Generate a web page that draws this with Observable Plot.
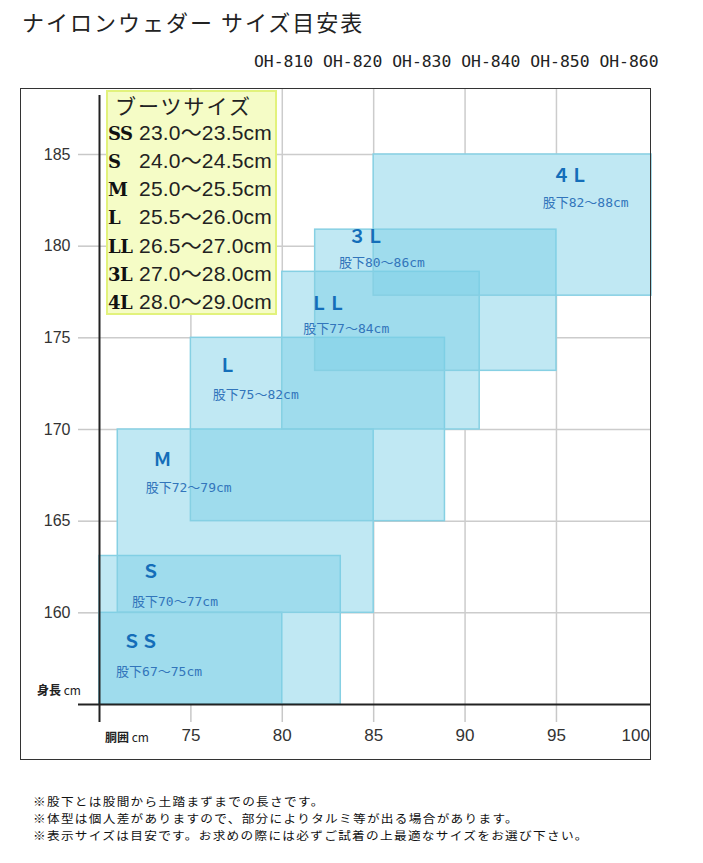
<!DOCTYPE html>
<html><head><meta charset="utf-8">
<script src="https://cdn.jsdelivr.net/npm/d3@7"></script>
<script src="https://cdn.jsdelivr.net/npm/@observablehq/plot@0.6"></script>
<style>
body{margin:0;background:#fff;width:703px;height:863px;position:relative;overflow:hidden;font-family:"Noto Sans CJK JP",sans-serif;color:#111}
.abs{position:absolute;white-space:nowrap}
</style></head>
<body>
<div id="title" class="abs" style="left:22px;top:10px;font-size:22px;line-height:22px;letter-spacing:2px;color:#222"></div>
<div id="models" class="abs" style="left:254px;top:54px;font-family:'DejaVu Sans Mono';font-size:16.4px;line-height:16px;color:#222"></div>
<div id="chart" class="abs" style="left:0;top:80px"></div>
<div class="abs" style="left:20px;top:88px;width:631px;height:672px;border:1.5px solid #333;box-sizing:border-box;pointer-events:none"></div>
<div id="boot" class="abs" style="left:106px;top:90px;width:171px;height:225px;background:#f5fcc6;border:2px solid #e2f27c;box-sizing:border-box"></div>
<div id="ylab" class="abs" style="left:37px;top:682px;font-size:12px;line-height:16px;font-weight:bold;color:#222"></div>
<div id="xlab" class="abs" style="left:105px;top:729px;font-size:12px;line-height:16px;font-weight:bold;color:#222"></div>
<div id="notes" class="abs" style="left:33px;top:793px;font-size:11.6px;line-height:17px;letter-spacing:1.2px;transform:scaleX(1.09);transform-origin:0 0;color:#111"></div>
<script>
const titleText = "ナイロンウェダー サイズ目安表";
const models = ["OH-810", "OH-820", "OH-830", "OH-840", "OH-850", "OH-860"];
const sizes = ["SS", "S", "M", "L", "LL", "3L", "4L"];
const sizeLabels = ["ＳＳ", "Ｓ", "Ｍ", "Ｌ", "ＬＬ", "３Ｌ", "４Ｌ"];
const waistMin = [70, 70, 71, 75, 80, 81.8, 85];
const waistMax = [80, 83.2, 85, 88.9, 90.8, 95, 100.2];
const heightMin = [155, 155, 160, 165, 170, 173.2, 177.3];
const heightMax = [160, 163.1, 170, 175, 178.6, 180.9, 185];
const inseams = ["股下67～75cm", "股下70～77cm", "股下72～79cm", "股下75～82cm", "股下77～84cm", "股下80～86cm", "股下82～88cm"];
const nameX = [72.25, 72.8, 73.44, 77.0, 82.5, 84.6, 95.75];
const nameY = [158.4, 162.2, 168.3, 173.45, 176.85, 180.5, 183.8];
const noteX = [73.26, 74.13, 74.88, 78.55, 83.5, 85.45, 96.6];
const noteY = [156.8, 160.6, 166.8, 171.9, 175.5, 179.1, 182.35];
const bootTitle = "ブーツサイズ";
const bootSizes = ["SS", "S", "M", "L", "LL", "3L", "4L"];
const bootRanges = ["23.0～23.5cm", "24.0～24.5cm", "25.0～25.5cm", "25.5～26.0cm", "26.5～27.0cm", "27.0～28.0cm", "28.0～29.0cm"];
const xTicks = [75, 80, 85, 90, 95];
const xLastTick = [100];
const yTicks = [160, 165, 170, 175, 180, 185];
const xDomain = [70, 100.2];
const yDomain = [155, 188.6];
const yAxisLabel = ["身長", "cm"];
const xAxisLabel = ["胴囲", "cm"];
const footnotes = [
  "※股下とは股間から土踏まずまでの長さです。",
  "※体型は個人差がありますので、部分によりタルミ等が出る場合があります。",
  "※表示サイズは目安です。お求めの際には必ずご試着の上最適なサイズをお選び下さい。"
];

document.getElementById("title").textContent = titleText;
document.getElementById("models").textContent = models.join(" ");
document.getElementById("ylab").innerHTML = yAxisLabel[0] + ' <span style="font-weight:normal">' + yAxisLabel[1] + '</span>';
document.getElementById("xlab").innerHTML = xAxisLabel[0] + ' <span style="font-weight:normal">' + xAxisLabel[1] + '</span>';
document.getElementById("notes").innerHTML = footnotes.map(t => "<div>" + t + "</div>").join("");

const boot = document.getElementById("boot");
let html = '<div class="abs" style="left:7px;top:2px;font-size:21px;line-height:22px;letter-spacing:2px;color:#222">' + bootTitle + '</div>';
bootSizes.forEach((s, i) => {
  const top = 27 + i * 28.15;
  html += '<div class="abs" style="left:0px;top:' + top + 'px;height:28px;line-height:28px;">' +
    '<span style="display:inline-block;width:31px;font-family:\'DejaVu Serif\';font-weight:900;font-size:18px;letter-spacing:-0.5px;color:#111">' + s + '</span>' +
    '<span style="font-family:\'Liberation Sans\',\'Noto Sans CJK JP\';font-size:21px;letter-spacing:0.2px;color:#222">' + bootRanges[i] + '</span></div>';
});
boot.innerHTML = html;

const table = sizes.map((s, i) => ({
  size: s, label: sizeLabels[i], inseam: inseams[i],
  x1: waistMin[i], x2: waistMax[i], y1: heightMin[i], y2: heightMax[i],
  nx: nameX[i], ny: nameY[i], ix: noteX[i], iy: noteY[i]
}));

const chart = Plot.plot({
  width: 703, height: 690,
  marginLeft: 99, marginRight: 52, marginTop: 8, marginBottom: 66,
  x: {domain: xDomain},
  y: {domain: yDomain},
  style: {fontFamily: "Liberation Sans", fontSize: "16px", background: "transparent"},
  marks: [
    Plot.gridY(yTicks, {stroke: "#cccccc", strokeOpacity: 1, strokeWidth: 1.5}),
    Plot.gridX(xTicks, {stroke: "#cccccc", strokeOpacity: 1, strokeWidth: 1.5}),
    Plot.axisY(yTicks, {tickSize: 21, tickPadding: 8, stroke: "#c8c8c8", strokeWidth: 1.5, fill: "#333", label: null, fontSize: 16}),
    Plot.axisX(xTicks, {tickSize: 18, tickPadding: 6, stroke: "#c8c8c8", strokeWidth: 1.5, fill: "#333", label: null, fontSize: 17}),
    Plot.axisX(xLastTick, {tickSize: 0, tickPadding: 24, textAnchor: "end", dx: 2, fill: "#333", label: null, fontSize: 17}),
    Plot.rect(table, {x1: "x1", x2: "x2", y1: "y1", y2: "y2", fill: "white"}),
    Plot.rect(table, {x1: "x1", x2: "x2", y1: "y1", y2: "y2", fill: "#7ccfe6", fillOpacity: 0.48, stroke: "#86d0e3", strokeWidth: 1.5}),
    Plot.ruleX([xDomain[0]], {stroke: "#222", strokeWidth: 2, insetTop: 7, insetBottom: -18}),
    Plot.ruleY([yDomain[0]], {stroke: "#222", strokeWidth: 2, insetLeft: -21}),
    Plot.text(table, {x: "nx", y: "ny", text: "label", fill: "#146eb9", fontSize: 18, fontWeight: "bold", fontFamily: "Noto Sans CJK JP", textAnchor: "middle"}),
    Plot.text(table, {x: "ix", y: "iy", text: "inseam", fill: "#3275bb", fontSize: 13, fontFamily: "DejaVu Sans Mono, Noto Sans CJK JP", textAnchor: "middle", letterSpacing: 0.5})
  ]
});
document.getElementById("chart").appendChild(chart);
</script>
</body></html>
